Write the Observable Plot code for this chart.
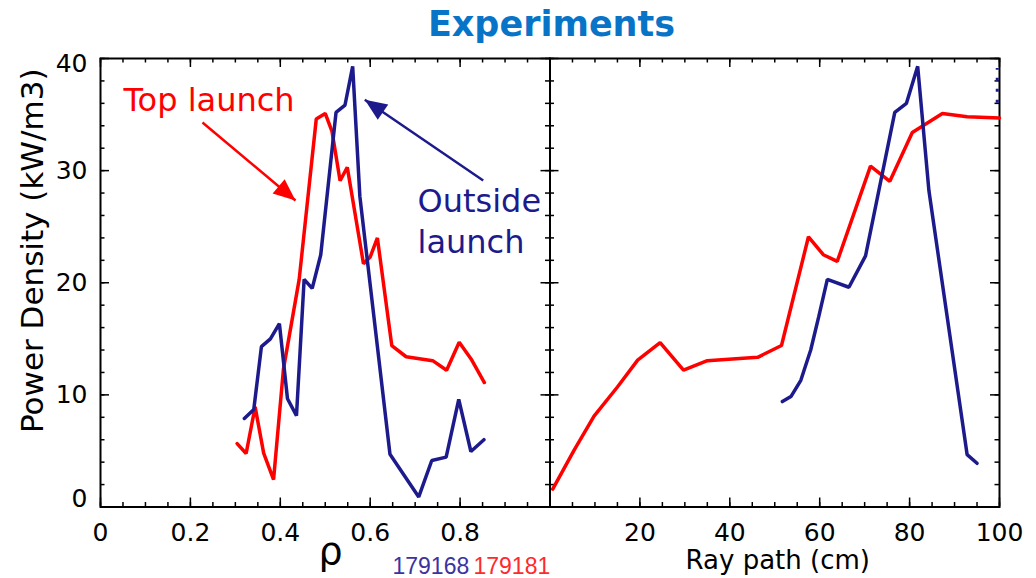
<!DOCTYPE html>
<html>
<head>
<meta charset="utf-8">
<script src="https://cdn.jsdelivr.net/npm/d3@7"></script>
<script src="https://cdn.jsdelivr.net/npm/@observablehq/plot@0.6"></script>
<style>
  html, body { margin: 0; padding: 0; background: white; }
  #chart { position: relative; width: 1036px; height: 578px; overflow: hidden; font-family: "DejaVu Sans", sans-serif; }
  #chart svg { position: absolute; top: 0; }
  #title { position: absolute; left: 0; top: 7px; width: 1103px; text-align: center; font-size: 35px; line-height: 35px; font-weight: bold; color: #0874c8; font-family: "DejaVu Sans", sans-serif; }
</style>
</head>
<body>
<div id="chart"><div id="title">Experiments</div></div>
<script>
// ---------- data ----------
// Left panel: power density vs normalized radius rho
const rhoOutside = [0.320, 0.341, 0.358, 0.378, 0.398, 0.416, 0.436, 0.453, 0.471, 0.490, 0.524, 0.544, 0.561, 0.577, 0.644, 0.708, 0.737, 0.769, 0.797, 0.824, 0.853];
const pdOutside  = [7.9, 8.7, 14.3, 15.0, 16.35, 9.65, 8.15, 20.3, 19.5, 22.5, 35.2, 35.85, 39.3, 27.7, 4.7, 0.9, 4.15, 4.45, 9.6, 4.95, 6.0];

const rhoTop = [0.304, 0.324, 0.344, 0.363, 0.385, 0.407, 0.442, 0.480, 0.500, 0.515, 0.533, 0.549, 0.585, 0.600, 0.616, 0.648, 0.680, 0.739, 0.770, 0.798, 0.826, 0.854];
const pdTop  = [5.65, 4.77, 8.93, 4.8, 2.44, 12.3, 20.3, 34.6, 35.1, 33.5, 29.1, 30.3, 21.7, 22.3, 24.0, 14.4, 13.4, 13.05, 12.2, 14.7, 13.1, 11.1];

// Right panel: power density vs ray path (cm)
const pathTop = [0.6, 5.4, 9.8, 15.0, 19.5, 24.5, 29.7, 35.0, 46.2, 51.5, 57.5, 60.8, 63.9, 71.3, 75.6, 80.6, 87.3, 92.8, 100];
const pdTopPath = [1.6, 5.1, 8.1, 10.7, 13.1, 14.65, 12.2, 13.05, 13.35, 14.4, 24.1, 22.5, 21.9, 30.4, 29.05, 33.4, 35.1, 34.8, 34.7];

const pathOutside = [51.7, 53.6, 55.8, 58.0, 59.8, 61.7, 66.5, 70.2, 76.7, 79.3, 81.8, 84.3, 92.8, 95.0];
const pdOutsidePath = [9.4, 9.85, 11.3, 14.0, 17.0, 20.3, 19.6, 22.4, 35.2, 36.0, 39.3, 28.2, 4.67, 3.9];

// small dashed remnant at the top right edge of the right panel
const remnantPath = [99.5];
const remnantRange = [36.0, 39.1];

// tick labels
const rhoTickLabels = [0, 0.2, 0.4, 0.6, 0.8];
const pathTickLabels = [20, 40, 60, 80, 100];
const pdTickLabels = [0, 10, 20, 30, 40];

// annotations
const topLabel = ["Top launch"];
const outsideLabel = ["Outside", "launch"];
const shotNumbers = ["179168", "179181"];

// ---------- styling ----------
const RED = "#ff0000";
const NAVY = "#1d1b8c";
const FONT = "DejaVu Sans";
const H = 578, MT = 58, MB = 71.5;
const FH = H - MT - MB;           // frame height
const FW = 449.5;                 // frame width
const MAJ = 9, MIN = 4.5;

const table = (xs, ys) => xs.map((x, i) => ({x, y: ys[i]}));

// arrow head symbol: tip at origin, pointing up
const arrowHead = {
  draw(ctx, size) {
    const L = Math.sqrt(size / Math.PI);
    const w = L * 0.85;
    ctx.moveTo(0, 0);
    ctx.lineTo(-w / 2, L);
    ctx.lineTo(w / 2, L);
    ctx.closePath();
  }
};

function frameTicks(xMajor, xMinor, yMajor, yMinor) {
  return [
    Plot.tickX(xMinor, {x: d => d, insetTop: FH - MIN, stroke: "black", strokeWidth: 1.5}),
    Plot.tickX(xMinor, {x: d => d, insetBottom: FH - MIN, stroke: "black", strokeWidth: 1.5}),
    Plot.tickX(xMajor, {x: d => d, insetTop: FH - MAJ, stroke: "black", strokeWidth: 1.5}),
    Plot.tickX(xMajor, {x: d => d, insetBottom: FH - MAJ, stroke: "black", strokeWidth: 1.5}),
    Plot.tickY(yMinor, {y: d => d, insetRight: FW - MIN, stroke: "black", strokeWidth: 1.5}),
    Plot.tickY(yMinor, {y: d => d, insetLeft: FW - MIN, stroke: "black", strokeWidth: 1.5}),
    Plot.tickY(yMajor, {y: d => d, insetRight: FW - MAJ, stroke: "black", strokeWidth: 1.5}),
    Plot.tickY(yMajor, {y: d => d, insetLeft: FW - MAJ, stroke: "black", strokeWidth: 1.5}),
    Plot.frame({stroke: "black", strokeWidth: 2})
  ];
}

const yMajor = d3.range(0, 40.001, 10);
const yMinor = d3.range(0, 40.001, 2);

// ---------- left panel ----------
const left = Plot.plot({
  width: 560, height: H,
  marginLeft: 100, marginRight: 560 - 100 - FW, marginTop: MT, marginBottom: MB,
  x: {domain: [0, 1]},
  y: {domain: [0, 40]},
  style: {fontFamily: FONT, fontSize: "25px", background: "transparent", overflow: "visible", color: "black"},
  marks: [
    ...frameTicks(d3.range(0, 1.001, 0.2), d3.range(0, 1.001, 0.05), yMajor, yMinor),
    Plot.axisX(rhoTickLabels, {tickSize: 0, tickPadding: 16, tickFormat: d => String(d), fontSize: 25, label: null}),
    Plot.axisY(pdTickLabels.filter(d => d > 0 && d < 40), {tickSize: 0, tickPadding: 13, fontSize: 25, label: null}),
    Plot.axisY(pdTickLabels.filter(d => d === 0), {tickSize: 0, tickPadding: 13, fontSize: 25, dy: -8, label: null}),
    Plot.axisY(pdTickLabels.filter(d => d === 40), {tickSize: 0, tickPadding: 13, fontSize: 25, dy: 5, label: null}),
    Plot.line(table(rhoTop, pdTop), {x: "x", y: "y", stroke: RED, strokeWidth: 3.5, strokeLinejoin: "miter"}),
    Plot.line(table(rhoOutside, pdOutside), {x: "x", y: "y", stroke: NAVY, strokeWidth: 3.5, strokeLinejoin: "miter"}),
    // annotations
    Plot.text(topLabel, {x: [0.0512], y: [35.36], text: d => d, fill: RED, fontSize: 32, textAnchor: "start", lineAnchor: "bottom"}),
    Plot.text(outsideLabel, {x: [0.7052, 0.7052], y: [26.29, 22.61], text: d => d, fill: NAVY, fontSize: 32, textAnchor: "start", lineAnchor: "bottom"}),
    Plot.link([0], {x1: [0.2269], y1: [34.29], x2: [0.4338], y2: [27.34], stroke: RED, strokeWidth: 2.5}),
    Plot.dot([0], {x: [0.4338], y: [27.34], symbol: arrowHead, r: 22, fill: RED, stroke: "none", rotate: 130}),
    Plot.link([0], {x1: [0.8514], y1: [29.12], x2: [0.588], y2: [36.32], stroke: NAVY, strokeWidth: 2.5}),
    Plot.dot([0], {x: [0.588], y: [36.32], symbol: arrowHead, r: 22, fill: NAVY, stroke: "none", rotate: -55.76}),
    // axis titles
    Plot.text(["Power Density (kW/m3)"], {frameAnchor: "left", text: d => d, rotate: -90, dx: -67, dy: -32, fontSize: 31, lineAnchor: "middle", textAnchor: "middle"}),
    Plot.text(["ρ"], {frameAnchor: "bottom-left", text: d => d, dx: 230, dy: 57, fontSize: 38, lineAnchor: "bottom", textAnchor: "middle"}),
    Plot.text([shotNumbers[0]], {frameAnchor: "bottom-left", text: d => d, dx: 292, dy: 66.5, fontSize: 23, fontFamily: "Liberation Sans", lineAnchor: "bottom", textAnchor: "start", fill: "#3b33a0"}),
    Plot.text([shotNumbers[1]], {frameAnchor: "bottom-left", text: d => d, dx: 373, dy: 66.5, fontSize: 23, fontFamily: "Liberation Sans", lineAnchor: "bottom", textAnchor: "start", fill: "#ff2a2a"})
  ]
});
left.style.left = "0px";

// ---------- right panel ----------
const right = Plot.plot({
  width: 496, height: H,
  marginLeft: 9.5, marginRight: 496 - 9.5 - FW, marginTop: MT, marginBottom: MB,
  x: {domain: [0, 100]},
  y: {domain: [0, 40], axis: null},
  style: {fontFamily: FONT, fontSize: "25px", background: "transparent", overflow: "visible", color: "black"},
  marks: [
    ...frameTicks(d3.range(0, 100.001, 20), d3.range(0, 100.001, 5), yMajor, yMinor),
    Plot.axisX(pathTickLabels, {tickSize: 0, tickPadding: 16, tickFormat: d => String(d), fontSize: 25, label: null}),
    Plot.line(table(pathTop, pdTopPath), {x: "x", y: "y", stroke: RED, strokeWidth: 3.5, strokeLinejoin: "miter"}),
    Plot.line(table(pathOutside, pdOutsidePath), {x: "x", y: "y", stroke: NAVY, strokeWidth: 3.5, strokeLinejoin: "miter"}),
    Plot.ruleX(remnantPath, {x: d => d, y1: remnantRange[0], y2: remnantRange[1], stroke: NAVY, strokeWidth: 3, strokeDasharray: "3,8"}),
    Plot.text(["Ray path (cm)"], {frameAnchor: "bottom", text: d => d, dx: 3, dy: 61.5, fontSize: 26, lineAnchor: "bottom", textAnchor: "middle"})
  ]
});
right.style.left = "540px";

const chart = document.getElementById("chart");
chart.appendChild(left);
chart.appendChild(right);
</script>
</body>
</html>
